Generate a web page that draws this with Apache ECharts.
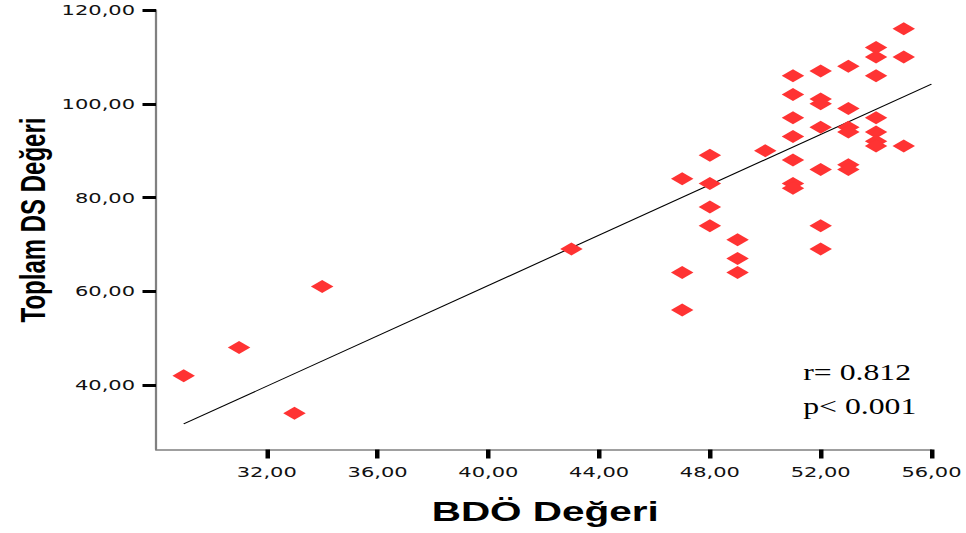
<!DOCTYPE html>
<html><head><meta charset="utf-8">
<script src="https://cdn.jsdelivr.net/npm/echarts@6/dist/echarts.min.js"></script>
<style>
html,body{margin:0;padding:0;background:#fff;overflow:hidden;}
#wrap{width:966px;height:533px;overflow:hidden;position:relative;}
#chart{width:644px;height:533px;transform:scaleX(1.5);transform-origin:0 0;}
</style></head><body>
<div id="wrap"><div id="chart"></div></div>
<script>
// BDÖ Değeri (x) and Toplam DS Değeri (y)
const bdoValues = [29, 31, 33, 34, 43,
  47, 47, 47,
  48, 48, 48, 48,
  49, 49, 49,
  50,
  51, 51, 51, 51, 51, 51, 51,
  52, 52, 52, 52, 52, 52, 52,
  53, 53, 53, 53, 53, 53,
  54, 54, 54, 54, 54, 54, 54,
  55, 55, 55];
const dsValues = [42, 48, 34, 61, 69,
  84, 64, 56,
  89, 83, 78, 74,
  71, 67, 64,
  90,
  106, 102, 97, 93, 88, 83, 82,
  107, 101, 100, 95, 86, 74, 69,
  108, 99, 95, 94, 87, 86,
  112, 110, 106, 97, 94, 92, 91,
  116, 110, 91];
// fitted regression line end points
const fitX = [29, 56];
const fitY = [31.7, 104.2];
const xTicks = [32, 36, 40, 44, 48, 52, 56];
const yTicks = [40, 60, 80, 100, 120];
const xTitle = 'BDÖ Değeri';
const yTitle = 'Toplam DS Değeri';
const statLines = ['r= 0.812', 'p< 0.001'];

const fmt = v => Number(v).toFixed(2).replace('.', ',');
const points = bdoValues.map((x, i) => [x, dsValues[i]]);
const fitLine = fitX.map((x, i) => [x, fitY[i]]);

const chart = echarts.init(document.getElementById('chart'), null, {renderer: 'svg'});
const axisCommon = {
  type: 'value',
  splitLine: {show: false},
  axisLine: {show: true, lineStyle: {color: '#808080', width: 1.5}},
  axisTick: {show: true, length: 9, lineStyle: {color: '#000', width: 3}},
  axisLabel: {color: '#111', fontFamily: 'DejaVu Sans', fontSize: 14, formatter: fmt}
};
chart.setOption({
  animation: false,
  backgroundColor: '#fff',
  grid: {left: 104, right: 20.5, top: 10, bottom: 83.5},
  xAxis: Object.assign({}, axisCommon, {
    min: 28, max: 56,
    axisTick: Object.assign({}, axisCommon.axisTick, {customValues: xTicks}),
    axisLabel: Object.assign({}, axisCommon.axisLabel, {customValues: xTicks, margin: 15})
  }),
  yAxis: Object.assign({}, axisCommon, {
    min: 26.25, max: 120,
    axisTick: Object.assign({}, axisCommon.axisTick, {customValues: yTicks}),
    axisLabel: Object.assign({}, axisCommon.axisLabel, {customValues: yTicks, margin: 14})
  }),
  series: [
    {
      type: 'line', data: fitLine, symbol: 'none', silent: true, z: 1,
      lineStyle: {color: '#000', width: 1}
    },
    {
      type: 'scatter', data: points, symbol: 'diamond', symbolSize: [15, 13], z: 2,
      itemStyle: {color: '#ff3333', opacity: 1}
    }
  ],
  graphic: [
    {type: 'text', x: 21.5, y: 220, rotation: Math.PI / 2,
     style: {text: yTitle, font: 'bold 24px "Liberation Sans", Arial, sans-serif', fill: '#000', align: 'center', verticalAlign: 'middle'}},
    {type: 'text', x: 363.5, y: 512,
     style: {text: xTitle, font: 'bold 27px "Liberation Sans", Arial, sans-serif', fill: '#000', align: 'center', verticalAlign: 'middle'}},
    {type: 'text', x: 535.5, y: 372, scaleX: 0.92,
     style: {text: statLines[0], font: '23px "Liberation Serif", "Times New Roman", serif', fill: '#000', align: 'left', verticalAlign: 'middle'}},
    {type: 'text', x: 535.5, y: 406, scaleX: 0.92,
     style: {text: statLines[1], font: '23px "Liberation Serif", "Times New Roman", serif', fill: '#000', align: 'left', verticalAlign: 'middle'}}
  ]
});
</script>
</body></html>
